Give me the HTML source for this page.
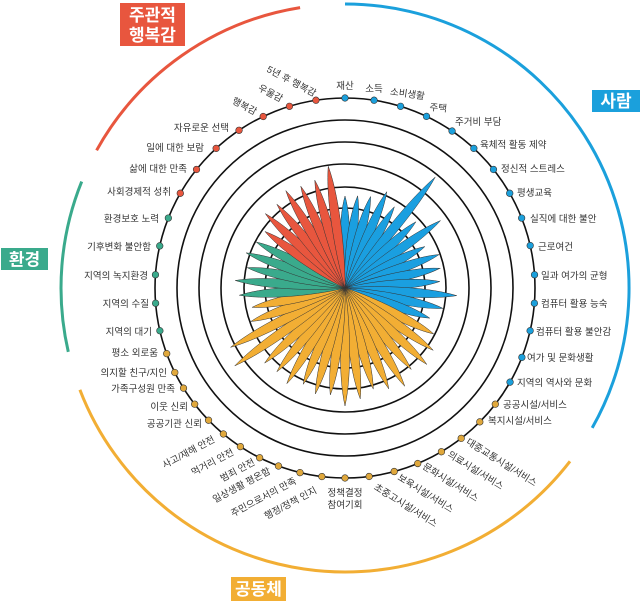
<!DOCTYPE html>
<html><head><meta charset="utf-8"><style>
html,body{margin:0;padding:0;background:#fff;}
svg{display:block;font-family:"Liberation Sans","Noto Sans CJK KR",sans-serif;}
.l{font-size:9.5px;fill:#333;}
.h{font-size:17px;font-weight:bold;fill:#fff;}
</style></head><body>
<svg width="640" height="609" viewBox="0 0 640 609" xmlns="http://www.w3.org/2000/svg">
<defs>
<path id="p" d="M0 0 C4 -20 8 -70 0 -100 C-8 -70 -4 -20 0 0Z" stroke="#333" stroke-width="0.5" vector-effect="non-scaling-stroke"/>
</defs>
<g fill="none" stroke-width="3">
<path d="M345,4 A284,284 0 0 1 592.2,427.9" stroke="#1ba0dc"/>
<path d="M300.1,7.6 A284,284 0 0 0 96.6,150.3" stroke="#e8563e"/>
<path d="M81.7,181.6 A284,284 0 0 0 68.3,351.9" stroke="#3aaa8c"/>
<path d="M79.9,389.8 A284,284 0 0 0 570,461.3" stroke="#f2ae34"/>
</g>
<g fill="none" stroke="#111" stroke-width="1.6">
<circle cx="345" cy="288" r="190"/>
<circle cx="345" cy="288" r="168"/>
<circle cx="345" cy="288" r="146"/>
<circle cx="345" cy="288" r="124"/>
<circle cx="345" cy="288" r="101"/>
<circle cx="345" cy="288" r="80"/>
</g>
<g transform="translate(345,288)">
<g fill="#1a9fe0">
<use href="#p" transform="rotate(0) scale(1,0.92)"/>
<use href="#p" transform="rotate(7.83) scale(1,0.93)"/>
<use href="#p" transform="rotate(15.65) scale(1,0.95)"/>
<use href="#p" transform="rotate(23.48) scale(1,1.05)"/>
<use href="#p" transform="rotate(31.3) scale(1,0.95)"/>
<use href="#p" transform="rotate(39.13) scale(1,1.43)"/>
<use href="#p" transform="rotate(46.96) scale(1,0.97)"/>
<use href="#p" transform="rotate(54.78) scale(1,1.17)"/>
<use href="#p" transform="rotate(62.61) scale(1,0.90)"/>
<use href="#p" transform="rotate(70.43) scale(1,1.0)"/>
<use href="#p" transform="rotate(78.26) scale(1,0.97)"/>
<use href="#p" transform="rotate(86.09) scale(1,0.95)"/>
<use href="#p" transform="rotate(93.91) scale(1,1.12)"/>
<use href="#p" transform="rotate(101.74) scale(1,1.0)"/>
<use href="#p" transform="rotate(109.57) scale(1,0.90)"/>
</g>
<g fill="#f2ae34">
<use href="#p" transform="rotate(117.39) scale(1,1.0)"/>
<use href="#p" transform="rotate(125.22) scale(1,1.08)"/>
<use href="#p" transform="rotate(133.04) scale(1,1.12)"/>
<use href="#p" transform="rotate(140.87) scale(1,1.05)"/>
<use href="#p" transform="rotate(148.7) scale(1,1.15)"/>
<use href="#p" transform="rotate(156.52) scale(1,1.10)"/>
<use href="#p" transform="rotate(164.35) scale(1,1.05)"/>
<use href="#p" transform="rotate(172.17) scale(1,1.12)"/>
<use href="#p" transform="rotate(180) scale(1,1.18)"/>
<use href="#p" transform="rotate(187.83) scale(1,1.08)"/>
<use href="#p" transform="rotate(195.65) scale(1,1.10)"/>
<use href="#p" transform="rotate(203.48) scale(1,1.05)"/>
<use href="#p" transform="rotate(211.3) scale(1,1.12)"/>
<use href="#p" transform="rotate(219.13) scale(1,1.08)"/>
<use href="#p" transform="rotate(226.96) scale(1,1.10)"/>
<use href="#p" transform="rotate(234.78) scale(1,1.35)"/>
<use href="#p" transform="rotate(242.61) scale(1,1.29)"/>
<use href="#p" transform="rotate(250.43) scale(1,1.0)"/>
<use href="#p" transform="rotate(258.26) scale(1,0.95)"/>
</g>
<g fill="#3aaa8c">
<use href="#p" transform="rotate(266.09) scale(1,1.06)"/>
<use href="#p" transform="rotate(273.91) scale(1,1.10)"/>
<use href="#p" transform="rotate(281.74) scale(1,1.0)"/>
<use href="#p" transform="rotate(289.57) scale(1,1.05)"/>
<use href="#p" transform="rotate(297.39) scale(1,1.0)"/>
</g>
<g fill="#e8563e">
<use href="#p" transform="rotate(305.22) scale(1,0.98)"/>
<use href="#p" transform="rotate(313.04) scale(1,1.09)"/>
<use href="#p" transform="rotate(320.87) scale(1,1.08)"/>
<use href="#p" transform="rotate(328.7) scale(1,1.14)"/>
<use href="#p" transform="rotate(336.52) scale(1,1.11)"/>
<use href="#p" transform="rotate(344.35) scale(1,1.12)"/>
<use href="#p" transform="rotate(352.17) scale(1,1.23)"/>
</g>
<g stroke="#333" stroke-width="0.6">
<g fill="#1ba0dc">
<circle cx="0" cy="-190" r="3.3" transform="rotate(0)"/>
<circle cx="0" cy="-190" r="3.3" transform="rotate(8.8)"/>
<circle cx="0" cy="-190" r="3.3" transform="rotate(17)"/>
<circle cx="0" cy="-190" r="3.3" transform="rotate(25.4)"/>
<circle cx="0" cy="-190" r="3.3" transform="rotate(34.3)"/>
<circle cx="0" cy="-190" r="3.3" transform="rotate(42.7)"/>
<circle cx="0" cy="-190" r="3.3" transform="rotate(51.4)"/>
<circle cx="0" cy="-190" r="3.3" transform="rotate(60.1)"/>
<circle cx="0" cy="-190" r="3.3" transform="rotate(68.4)"/>
<circle cx="0" cy="-190" r="3.3" transform="rotate(77.1)"/>
<circle cx="0" cy="-190" r="3.3" transform="rotate(86)"/>
<circle cx="0" cy="-190" r="3.3" transform="rotate(94.6)"/>
<circle cx="0" cy="-190" r="3.3" transform="rotate(103)"/>
<circle cx="0" cy="-190" r="3.3" transform="rotate(111.4)"/>
<circle cx="0" cy="-190" r="3.3" transform="rotate(119.7)"/>
</g>
<g fill="#e0a83c">
<circle cx="0" cy="-190" r="3.3" transform="rotate(127.7)"/>
<circle cx="0" cy="-190" r="3.3" transform="rotate(134.8)"/>
<circle cx="0" cy="-190" r="3.3" transform="rotate(142.3)"/>
<circle cx="0" cy="-190" r="3.3" transform="rotate(149.5)"/>
<circle cx="0" cy="-190" r="3.3" transform="rotate(157.5)"/>
<circle cx="0" cy="-190" r="3.3" transform="rotate(165)"/>
<circle cx="0" cy="-190" r="3.3" transform="rotate(172.7)"/>
<circle cx="0" cy="-190" r="3.3" transform="rotate(180)"/>
<circle cx="0" cy="-190" r="3.3" transform="rotate(-173)"/>
<circle cx="0" cy="-190" r="3.3" transform="rotate(-166.3)"/>
<circle cx="0" cy="-190" r="3.3" transform="rotate(-159.5)"/>
<circle cx="0" cy="-190" r="3.3" transform="rotate(-153.3)"/>
<circle cx="0" cy="-190" r="3.3" transform="rotate(-146.6)"/>
<circle cx="0" cy="-190" r="3.3" transform="rotate(-140.2)"/>
<circle cx="0" cy="-190" r="3.3" transform="rotate(-134.1)"/>
<circle cx="0" cy="-190" r="3.3" transform="rotate(-127.7)"/>
<circle cx="0" cy="-190" r="3.3" transform="rotate(-121.8)"/>
<circle cx="0" cy="-190" r="3.3" transform="rotate(-116.4)"/>
<circle cx="0" cy="-190" r="3.3" transform="rotate(-110.2)"/>
</g>
<g fill="#3aaa8c">
<circle cx="0" cy="-190" r="3.3" transform="rotate(-103)"/>
<circle cx="0" cy="-190" r="3.3" transform="rotate(-94.6)"/>
<circle cx="0" cy="-190" r="3.3" transform="rotate(-86)"/>
<circle cx="0" cy="-190" r="3.3" transform="rotate(-77.2)"/>
<circle cx="0" cy="-190" r="3.3" transform="rotate(-68.4)"/>
</g>
<g fill="#e8563e">
<circle cx="0" cy="-190" r="3.3" transform="rotate(-60.1)"/>
<circle cx="0" cy="-190" r="3.3" transform="rotate(-51.4)"/>
<circle cx="0" cy="-190" r="3.3" transform="rotate(-42.7)"/>
<circle cx="0" cy="-190" r="3.3" transform="rotate(-33.9)"/>
<circle cx="0" cy="-190" r="3.3" transform="rotate(-25.5)"/>
<circle cx="0" cy="-190" r="3.3" transform="rotate(-17)"/>
<circle cx="0" cy="-190" r="3.3" transform="rotate(-8.8)"/>
</g>
</g>
</g>
<rect x="120" y="3" width="65" height="43" fill="#e8563e"/>
<text class="h" x="152.5" y="21" text-anchor="middle">주관적</text>
<text class="h" x="152.5" y="41" text-anchor="middle">행복감</text>
<rect x="592" y="90" width="48" height="22" fill="#1ba0dc"/>
<text class="h" x="616" y="107" text-anchor="middle">사람</text>
<rect x="1" y="248" width="47" height="22" fill="#3aaa8c"/>
<text class="h" x="24.5" y="265.5" text-anchor="middle">환경</text>
<rect x="231" y="577" width="55" height="24" fill="#f2ae34"/>
<text class="h" x="258.5" y="595" text-anchor="middle">공동체</text>
<g class="l" text-anchor="middle">
<text x="345" y="89">재산</text>
<text x="374" y="92">소득</text>
<text transform="translate(407,97) rotate(8)">소비생활</text>
<text transform="translate(438,111) rotate(5)">주택</text>
<text transform="translate(290,84) rotate(28)">5년 후 행복감</text>
<text transform="translate(269,96) rotate(28)">우울감</text>
<text transform="translate(243,109) rotate(28)">행복감</text>
</g>
<g class="l" text-anchor="end">
<text x="229" y="131">자유로운 선택</text>
<text x="204" y="151">일에 대한 보람</text>
<text x="187" y="172">삶에 대한 만족</text>
<text x="171" y="195">사회경제적 성취</text>
<text x="159" y="222">환경보호 노력</text>
<text x="151" y="250">기후변화 불안함</text>
<text x="148" y="279">지역의 녹지환경</text>
<text x="149" y="307">지역의 수질</text>
<text x="152" y="335">지역의 대기</text>
<text x="158" y="356">평소 외로움</text>
<text x="167" y="376">의지할 친구/지인</text>
<text x="175" y="392">가족구성원 만족</text>
<text x="188" y="410">이웃 신뢰</text>
<text x="202" y="427">공공기관 신뢰</text>
</g>
<g class="l">
<text x="455" y="125">주거비 부담</text>
<text x="480" y="148">육체적 활동 제약</text>
<text x="501" y="172">정신적 스트레스</text>
<text x="517" y="196">평생교육</text>
<text x="530" y="222">실직에 대한 불안</text>
<text x="538" y="250">근로여건</text>
<text x="541" y="279">일과 여가의 균형</text>
<text x="541" y="307">컴퓨터 활용 능숙</text>
<text x="536" y="335">컴퓨터 활용 불안감</text>
<text x="527" y="361">여가 및 문화생활</text>
<text x="517" y="386">지역의 역사와 문화</text>
<text x="503" y="408">공공시설/서비스</text>
<text x="488" y="424">복지시설/서비스</text>
</g>
<g class="l" text-anchor="middle">
<text transform="translate(190,455) rotate(-28)">사고/재해 안전</text>
<text transform="translate(214,465) rotate(-28)">먹거리 안전</text>
<text transform="translate(239,473) rotate(-28)">범죄 안전</text>
<text transform="translate(243,488) rotate(-28)">일상생활 평온함</text>
<text transform="translate(265,500) rotate(-28)">주민으로서의 만족</text>
<text transform="translate(292,506) rotate(-28)">행정/정책 인지</text>
<text x="345" y="496">정책결정</text>
<text x="345" y="508">참여기회</text>
<text transform="translate(404,508) rotate(32)">초중고시설/서비스</text>
<text transform="translate(424,496) rotate(32)">보육시설/서비스</text>
<text transform="translate(449,485) rotate(32)">문화시설/서비스</text>
<text transform="translate(474,473) rotate(32)">의료시설/서비스</text>
<text transform="translate(500,465) rotate(32)">대중교통시설/서비스</text>
</g>
</svg>
</body></html>
